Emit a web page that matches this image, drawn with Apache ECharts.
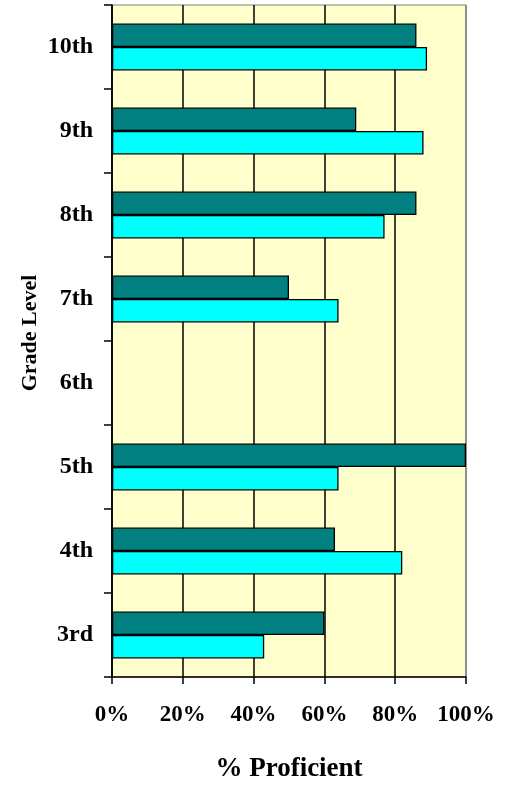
<!DOCTYPE html>
<html>
<head>
<meta charset="utf-8">
<script src="https://cdn.jsdelivr.net/npm/echarts@6/dist/echarts.min.js"></script>
<style>html,body{margin:0;padding:0;background:#fff;}#c{width:506px;height:788px;}</style>
</head>
<body>
<div id="c"></div>
<script>
var categories = ['3rd', '4th', '5th', '6th', '7th', '8th', '9th', '10th'];
var seriesTeal = [60, 63, 100, null, 50, 86, 69, 86];
var seriesCyan = [43, 82, 64, null, 64, 77, 88, 89];
var xTicks = [0, 20, 40, 60, 80, 100];

var font = '"Liberation Serif", "Times New Roman", serif';
var chart = echarts.init(document.getElementById('c'), null, {renderer: 'canvas'});
chart.setOption({
  animation: false,
  backgroundColor: '#ffffff',
  grid: {
    left: 112, right: 40, top: 5, bottom: 109,
    show: true, backgroundColor: '#FFFFCC', borderColor: '#808080', borderWidth: 1
  },
  xAxis: {
    type: 'value', min: 0, max: 100, interval: 20,
    name: '% Proficient', nameLocation: 'middle', nameGap: 79, nameMoveOverlap: false,
    nameTextStyle: {fontFamily: font, fontWeight: 'bold', fontSize: 27, color: '#000'},
    axisLine: {show: true, onZero: false, lineStyle: {color: '#000', width: 1.5}},
    axisTick: {show: true, length: 7, lineStyle: {color: '#000', width: 1.5}},
    axisLabel: {
      margin: 27, fontFamily: font, fontWeight: 'bold', fontSize: 23, color: '#000',
      formatter: function (v) { return xTicks.indexOf(v) >= 0 ? v + '%' : ''; }
    },
    splitLine: {show: true, lineStyle: {color: ['#000', '#000', '#000', '#000', '#000', '#808080'], width: 1.5}}
  },
  yAxis: {
    type: 'category', data: categories,
    name: 'Grade Level', nameLocation: 'middle', nameGap: 71, nameRotate: 90, nameMoveOverlap: false,
    nameTextStyle: {fontFamily: font, fontWeight: 'bold', fontSize: 22, color: '#000', padding: [0, 0, 0, 16]},
    axisLine: {show: true, lineStyle: {color: '#000', width: 1.5}},
    axisTick: {show: true, length: 8, lineStyle: {color: '#000', width: 1.5}},
    axisLabel: {margin: 19, fontFamily: font, fontWeight: 'bold', fontSize: 24, color: '#000'},
    splitLine: {show: false}
  },
  series: [
    {
      type: 'bar', name: 'A', data: seriesTeal, barGap: '0%', barCategoryGap: '44%',
      itemStyle: {color: '#008080', borderColor: '#000', borderWidth: 1.3}
    },
    {
      type: 'bar', name: 'B', data: seriesCyan, barGap: '0%', barCategoryGap: '44%',
      itemStyle: {color: '#00FFFF', borderColor: '#000', borderWidth: 1.3}
    }
  ]
});
</script>
</body>
</html>
